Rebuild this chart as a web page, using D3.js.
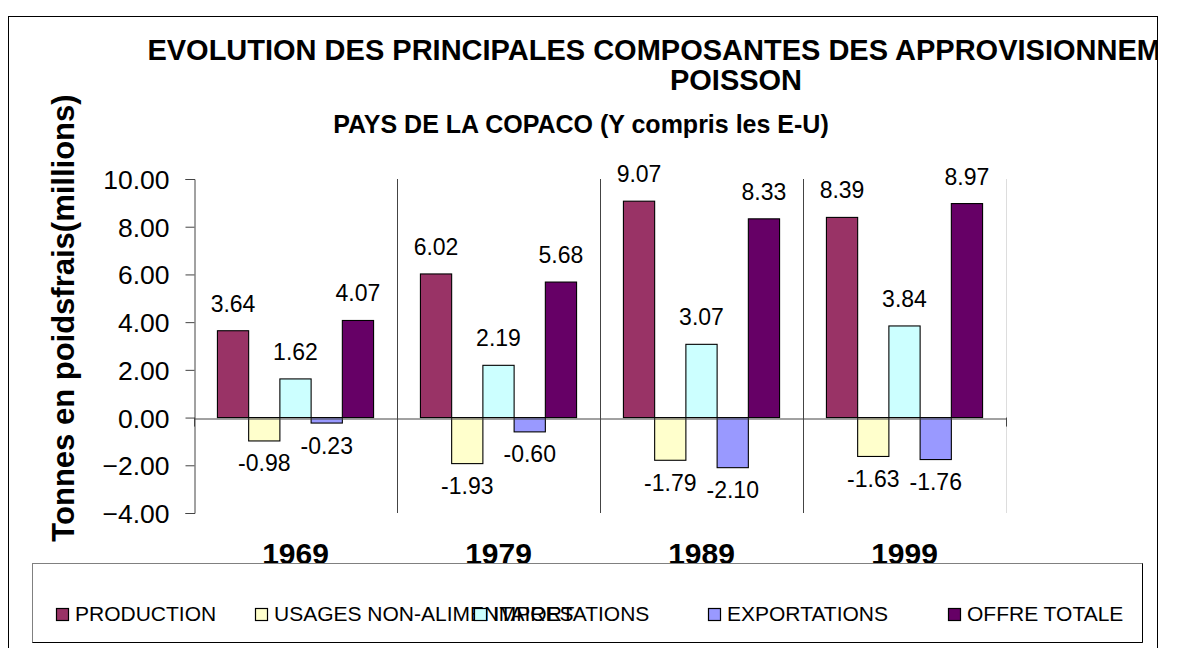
<!DOCTYPE html>
<html>
<head>
<meta charset="utf-8">
<script src="https://cdn.jsdelivr.net/npm/d3@7"></script>
<style>
  html, body { margin: 0; padding: 0; background: #fff; }
  svg { display: block; font-family: "Liberation Sans", Arial, sans-serif; }
</style>
</head>
<body>
<svg id="chart" width="1178" height="648"></svg>
<script>
// ---- data ----
const years = ["1969", "1979", "1989", "1999"];
const series = ["PRODUCTION", "USAGES NON-ALIMENTAIRES", "IMPORTATIONS", "EXPORTATIONS", "OFFRE TOTALE"];
const production = [3.64, 6.02, 9.07, 8.39];
const usagesNonAlim = [-0.98, -1.93, -1.79, -1.63];
const importations = [1.62, 2.19, 3.07, 3.84];
const exportations = [-0.23, -0.60, -2.10, -1.76];
const offreTotale = [4.07, 5.68, 8.33, 8.97];
const yTicks = [-4, -2, 0, 2, 4, 6, 8, 10];
const colors = ["#993366", "#FFFFCC", "#CCFFFF", "#9999FF", "#660066"];

const values = [production, usagesNonAlim, importations, exportations, offreTotale];
const rows = [];
years.forEach((yr, i) => series.forEach((s, j) => rows.push({ year: yr, series: s, value: values[j][i], idx: j })));

// ---- layout ----
const svg = d3.select("#chart");
const plot = { left: 194, right: 1006, top: 179, bottom: 513 };

const y = d3.scaleLinear().domain([-4, 10]).range([plot.bottom, plot.top]);
const x0 = d3.scaleBand().domain(years).range([plot.left, plot.right]).paddingInner(0).paddingOuter(0);
const x1 = d3.scaleBand().domain(series).range([0, x0.bandwidth()]).paddingInner(0).paddingOuter(0.75);
const color = d3.scaleOrdinal().domain(series).range(colors);

// outer border
svg.append("rect").attr("x", 8.5).attr("y", 16.5).attr("width", 1149).attr("height", 700)
  .attr("fill", "none").attr("stroke", "#000").attr("stroke-width", 1);

// clip for title
svg.append("clipPath").attr("id", "clipTitle").append("rect")
  .attr("x", 9).attr("y", 17).attr("width", 1149).attr("height", 200);

// titles
const tg = svg.append("g").attr("clip-path", "url(#clipTitle)");
tg.append("text").attr("x", 717).attr("y", 60).attr("text-anchor", "middle")
  .attr("font-size", 29).attr("font-weight", "bold")
  .text("EVOLUTION DES PRINCIPALES COMPOSANTES DES APPROVISIONNEMENTS EN");
tg.append("text").attr("x", 736).attr("y", 90).attr("text-anchor", "middle")
  .attr("font-size", 29).attr("font-weight", "bold").text("POISSON");
svg.append("text").attr("x", 581).attr("y", 133).attr("text-anchor", "middle")
  .attr("font-size", 25).attr("font-weight", "bold").text("PAYS DE LA COPACO (Y compris les E-U)");

// y axis title
svg.append("text").attr("transform", "translate(74,318) rotate(-90)").attr("text-anchor", "middle")
  .attr("font-size", 31).attr("font-weight", "bold").text("Tonnes en poidsfrais(millions)");

// category divider lines
const bounds = years.slice(1).map(d => x0(d));
svg.append("g").selectAll("line").data(bounds).join("line")
  .attr("x1", d => Math.round(d) + 0.5).attr("x2", d => Math.round(d) + 0.5)
  .attr("y1", plot.top).attr("y2", plot.bottom)
  .attr("stroke", "#444").attr("stroke-width", 1);
svg.append("line").attr("x1", plot.right + 0.5).attr("x2", plot.right + 0.5)
  .attr("y1", plot.top).attr("y2", plot.bottom).attr("stroke", "#ddd");

// y axis
const yAxis = d3.axisLeft(y).tickValues(yTicks).tickSize(9).tickPadding(16).tickFormat(d3.format(".2f"));
const ya = svg.append("g").attr("transform", `translate(${plot.left + 0.5},0)`).call(yAxis);
ya.select(".domain").attr("stroke", "#444");
ya.selectAll(".tick line").attr("stroke", "#444");
ya.selectAll(".tick text").attr("font-size", 26.5).attr("font-family", "Liberation Sans, Arial, sans-serif").attr("fill", "#000").attr("dy", "0.36em");

// bars
const gb = svg.append("g");
gb.selectAll("rect").data(rows).join("rect")
  .attr("x", d => x0(d.year) + x1(d.series))
  .attr("y", d => y(Math.max(0, d.value)))
  .attr("width", x1.bandwidth())
  .attr("height", d => Math.abs(y(d.value) - y(0)))
  .attr("fill", d => color(d.series))
  .attr("stroke", "#000").attr("stroke-width", 1.1);

// x axis (zero line)
const xAxis = d3.axisBottom(x0).tickSize(0).tickFormat("");
const xa = svg.append("g").attr("transform", `translate(0,${Math.round(y(0)) + 0.5})`).call(xAxis);
xa.select(".domain").attr("stroke", "#444");
svg.append("g").selectAll("line").data([plot.left, ...bounds, plot.right]).join("line")
  .attr("x1", d => Math.round(d) + 0.5).attr("x2", d => Math.round(d) + 0.5)
  .attr("y1", y(0)).attr("y2", y(0) + 9).attr("stroke", "#444");

// value labels
svg.append("g").selectAll("text").data(rows).join("text")
  .attr("x", d => x0(d.year) + x1(d.series) + x1.bandwidth() / 2)
  .attr("y", d => d.value >= 0 ? y(d.value) - 19 : y(d.value) + 30.5)
  .attr("text-anchor", "middle").attr("font-size", 23)
  .text(d => d.value.toFixed(2));

// year labels
svg.append("g").selectAll("text").data(years).join("text")
  .attr("x", d => x0(d) + x0.bandwidth() / 2).attr("y", 564)
  .attr("text-anchor", "middle").attr("font-size", 30).attr("font-weight", "bold")
  .text(d => d);

// legend
const lg = svg.append("g");
lg.append("rect").attr("x", 32.5).attr("y", 563.5).attr("width", 1110).attr("height", 79)
  .attr("fill", "#fff").attr("stroke", "#808080");
lg.append("path").attr("d", "M32.5,642.5H1142.5V563.5").attr("fill", "none").attr("stroke", "#000");
const legendX = [56, 255, 474, 708, 948];
const li = lg.selectAll("g.item").data(series).join("g").attr("class", "item")
  .attr("transform", (d, i) => `translate(${legendX[i]},0)`);
li.append("rect").attr("x", 0.5).attr("y", 608.5).attr("width", 12).attr("height", 12)
  .attr("fill", d => color(d)).attr("stroke", "#000").attr("stroke-width", 1.2);
li.append("text").attr("x", 19).attr("y", 620.5).attr("font-size", 21).text(d => d);
</script>
</body>
</html>
